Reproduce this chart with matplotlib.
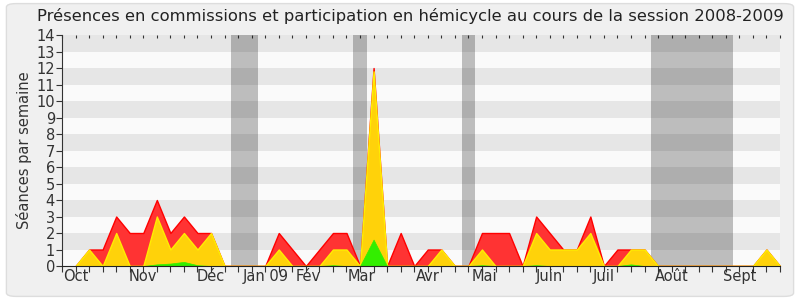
import matplotlib
matplotlib.use("Agg")
import matplotlib.pyplot as plt
from matplotlib.patches import FancyBboxPatch

# weekly values, session 2008-2009 (53 weeks)
weeks = list(range(53))
commission = [0, 1, 1, 3, 2, 2, 4, 2, 3, 2, 2, 0, 0, 0, 0, 2, 1, 0, 1, 2,
              2, 0, 12, 0, 2, 0, 1, 1, 0, 0, 2, 2, 2, 0, 3, 2, 1, 1, 3, 0,
              1, 1, 1, 0, 0, 0, 0, 0, 0, 0, 0, 1, 0]
hemicycle = [0, 1, 0, 2, 0, 0, 3, 1, 2, 1, 2, 0, 0, 0, 0, 1, 0, 0, 0, 1,
             1, 0, 11.8, 0, 0, 0, 0, 1, 0, 0, 1, 0, 0, 0, 2, 1, 1, 1, 2, 0,
             0, 1, 1, 0, 0, 0, 0, 0, 0, 0, 0, 1, 0]
interventions = [0, 0, 0, 0, 0, 0, 0.1, 0.15, 0.25, 0.05, 0, 0, 0, 0, 0, 0, 0, 0, 0, 0.05,
                 0, 0, 1.6, 0, 0, 0, 0, 0, 0, 0, 0.05, 0, 0, 0, 0.05, 0, 0, 0, 0, 0,
                 0, 0.1, 0, 0, 0, 0, 0, 0, 0, 0, 0, 0, 0]

# vacation periods (in weeks)
vacances = [(11.5, 13.5), (20.5, 21.5), (28.5, 29.5), (42.5, 48.5)]

month_pos = [0, 5, 10, 14, 17.2, 21.1, 26, 30.2, 35, 39, 44, 49]
month_labels = ["Oct", "Nov", "Déc", "Jan 09", "Fév", "Mar", "Avr", "Mai",
                "Juin", "Juil", "Août", "Sept"]

fig = plt.figure(figsize=(8, 3), dpi=100)
fig.patch.set_facecolor("white")
cadre = FancyBboxPatch((0.008, 0.012), 0.984, 0.976,
                       boxstyle="round,pad=0,rounding_size=0.012",
                       transform=fig.transFigure, facecolor="#f0f0f0",
                       edgecolor="#dddddd", linewidth=1, zorder=-10)
fig.patches.append(cadre)

ax = fig.add_axes([0.0775, 0.1133, 0.8975, 0.77])
ax.set_zorder(5)
ax.set_facecolor("#fafafa")

# horizontal stripes
for y in range(1, 14, 2):
    ax.axhspan(y, y + 1, color="#e6e6e6", linewidth=0, zorder=0)

for a, b in vacances:
    ax.axvspan(a, b, color="#0a0a0a", alpha=0.25, linewidth=0, zorder=1)

ax.fill_between(weeks, commission, color="#ff3333", edgecolor="#ff0000", linewidth=1, zorder=2)
ax.fill_between(weeks, hemicycle, color="#ffd20a", edgecolor="#ffee00", linewidth=1, zorder=3)
ax.fill_between(weeks, interventions, color="#33ee00", edgecolor="#33ee00", linewidth=0.5, zorder=4)

ax.set_xlim(-1, 52)
ax.set_ylim(0, 14)
ax.set_yticks(range(0, 15))
ax.xaxis.remove_overlapping_locs = False
ax.set_xticks(range(-1, 53))
ax.set_xticklabels([])
ax.set_xticks(month_pos, minor=True)
ax.set_xticklabels(month_labels, minor=True)
ax.tick_params(axis="x", which="major", length=4, width=0.8, color="#333333")
ax.tick_params(axis="x", which="minor", length=0, pad=2, labelsize=10.5, labelcolor="#333333")
ax.tick_params(axis="y", length=4, width=0.8, color="#333333", labelsize=10.5,
               labelcolor="#333333", pad=1)

haut = ax.secondary_xaxis("top")
haut.set_xticks(range(-1, 53))
haut.set_xticklabels([])
haut.tick_params(direction="in", length=2, width=0.8, color="#333333")
haut.spines["top"].set_visible(False)

for s in ["top", "right"]:
    ax.spines[s].set_visible(False)
ax.spines["left"].set_color("#333333")
ax.spines["bottom"].set_color("#222222")
ax.spines["bottom"].set_zorder(5)

ax.set_ylabel("Séances par semaine", fontsize=10.5, color="#333333", labelpad=3)
fig.text(0.513, 0.945, "Présences en commissions et participation en hémicycle au cours de la session 2008-2009",
         ha="center", va="center", fontsize=11.8, color="#222222")

fig.savefig("out.png", dpi=100, facecolor=fig.get_facecolor())
